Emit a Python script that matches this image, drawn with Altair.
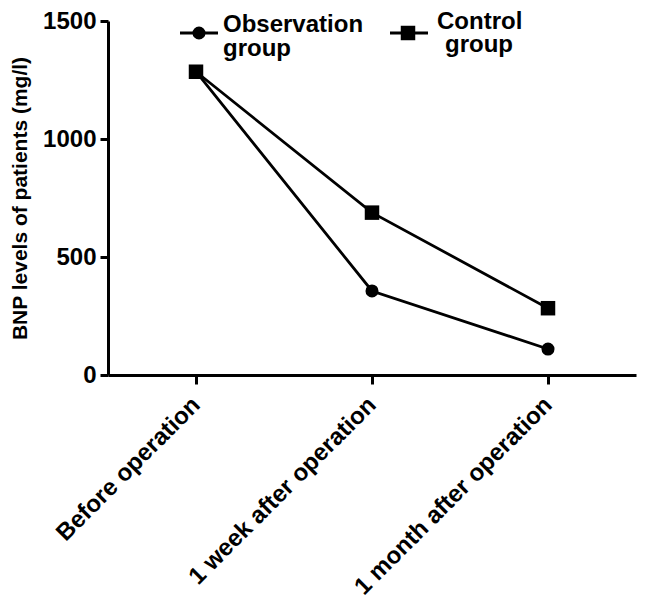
import altair as alt
import pandas as pd

categories = ["Before operation", "1 week after operation", "1 month after operation"]
observation = [1285, 356, 110]
control = [1285, 688, 283]
groups = ["Observation group", "Control group"]

rows = []
for g, vals in zip(groups, [observation, control]):
    for c, v in zip(categories, vals):
        rows.append({"time": c, "value": v, "group": g})
df = pd.DataFrame(rows)

FONT = "Liberation Sans"

x_enc = alt.X("time:N", sort=categories, title=None,
              scale=alt.Scale(type="point", padding=0.5),
              axis=alt.Axis(labelAngle=-45, labelAlign="right", labelBaseline="middle",
                            labelFontSize=24, labelFont=FONT, labelFontWeight="bold",
                            labelColor="black", domainColor="black", domainWidth=3,
                            tickColor="black", tickWidth=3, tickSize=9, labelPadding=17,
                            labelLimit=400))
y_enc = alt.Y("value:Q", title="BNP levels of patients (mg/l)",
              scale=alt.Scale(domain=[0, 1500], nice=False),
              axis=alt.Axis(values=[0, 500, 1000, 1500], format="d", labelFontSize=24,
                            labelFont=FONT, labelFontWeight="bold", labelColor="black",
                            domainColor="black", domainWidth=3, tickColor="black",
                            tickWidth=3, tickSize=8, labelPadding=4, titleFontSize=21,
                            titleFont=FONT, titleFontWeight="bold", titleColor="black",
                            titlePadding=12, grid=False))

lines = alt.Chart(df).mark_line(color="black", strokeWidth=2.8).encode(
    x=x_enc, y=y_enc, detail="group:N")

points = alt.Chart(df).mark_point(filled=True, color="black", opacity=1).encode(
    x=alt.X("time:N", sort=categories),
    y="value:Q",
    shape=alt.Shape("group:N", scale=alt.Scale(domain=groups, range=["circle", "square"]), legend=None),
    size=alt.Size("group:N", scale=alt.Scale(domain=groups, range=[170, 210]), legend=None),
)

# manual legend
leg = pd.DataFrame({"group": groups, "lx": [72, 282], "lx2": [110, 320], "px": [91, 300]})
leg_line = alt.Chart(leg).mark_rule(color="black", strokeWidth=3).encode(
    x=alt.X("lx:Q", scale=None, axis=None), x2="lx2:Q", y=alt.value(12))
leg_pt = alt.Chart(leg).mark_point(filled=True, color="black", opacity=1).encode(
    x=alt.X("px:Q", scale=None, axis=None), y=alt.value(12),
    shape=alt.Shape("group:N", scale=alt.Scale(domain=groups, range=["circle", "square"]), legend=None),
    size=alt.Size("group:N", scale=alt.Scale(domain=groups, range=[170, 210]), legend=None))

txt = pd.DataFrame({
    "t": ["Observation", "group", "Control", "group"],
    "tx": [115, 115, 329, 337],
    "ty": [11, 35, 8, 31],
})
leg_txt = alt.Chart(txt).mark_text(align="left", baseline="alphabetic", font=FONT,
                                   fontWeight="bold", fontSize=24, color="black").encode(
    x=alt.X("tx:Q", scale=None, axis=None), y=alt.Y("ty:Q", scale=None, axis=None), text="t:N")

chart = alt.layer(lines, points, leg_line, leg_pt, leg_txt).resolve_scale(
    shape="independent", size="independent"
).properties(
    width=528, height=354,
    padding={"left": 100, "top": 13, "right": 2, "bottom": 226},
    autosize="none",
).configure(background="white").configure_view(stroke=None)

chart.save("out.html", embed_options={"renderer": "svg", "actions": False})
